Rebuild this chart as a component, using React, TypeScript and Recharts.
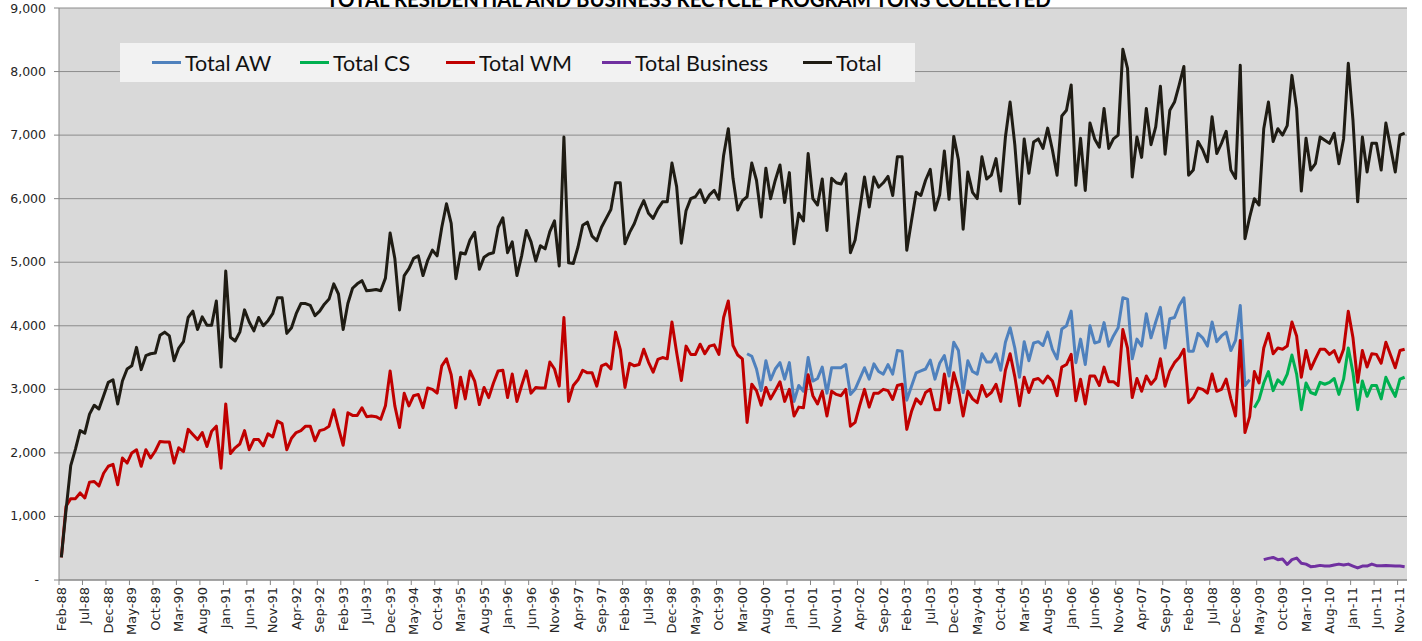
import { LineChart, Line, XAxis, YAxis, CartesianGrid, Legend } from 'recharts'

const MONTHS = ['Jan', 'Feb', 'Mar', 'Apr', 'May', 'Jun', 'Jul', 'Aug', 'Sep', 'Oct', 'Nov', 'Dec']
const FIRST_MONTH = 1 // Feb
const FIRST_YEAR = 1988

// Feb-88 .. Dec-11
const totalTons = [
  355, 1100, 1800, 2060, 2350, 2310, 2610, 2750, 2690, 2900, 3110, 3150,
  2770, 3130, 3320, 3370, 3660, 3310, 3530, 3560, 3570, 3850, 3900, 3840,
  3450, 3650, 3750, 4130, 4230, 3940, 4140, 4010, 4010, 4390, 3350, 4860,
  3820, 3760, 3900, 4250, 4060, 3920, 4130, 4000, 4080, 4190, 4440, 4440,
  3880, 3970, 4190, 4350, 4350, 4320, 4160, 4230, 4340, 4420, 4660, 4500,
  3940, 4350, 4590, 4660, 4710, 4550, 4560, 4570, 4550, 4750, 5460, 5060,
  4250, 4790, 4900, 5060, 5100, 4790, 5030, 5190, 5100, 5550, 5920, 5610,
  4740, 5150, 5130, 5350, 5470, 4890, 5080, 5130, 5150, 5550, 5700, 5150,
  5320, 4790, 5100, 5500, 5320, 5020, 5260, 5210, 5480, 5650, 4940, 6970,
  4990, 4980, 5240, 5580, 5630, 5410, 5340, 5550, 5690, 5830, 6250, 6250,
  5290, 5470, 5610, 5810, 5970, 5770, 5690, 5840, 5950, 5950, 6560, 6190,
  5300, 5810, 6000, 6030, 6140, 5940, 6060, 6130, 5990, 6680, 7100, 6320,
  5820, 5970, 6030, 6560, 6290, 5710, 6480, 6000, 6290, 6530, 5940, 6410,
  5290, 5770, 5650, 6710, 6000, 5900, 6310, 5500, 6320, 6250, 6230, 6390,
  5150, 5350, 5840, 6340, 5870, 6340, 6180, 6250, 6350, 6050, 6660, 6660,
  5190, 5650, 6100, 6050, 6290, 6460, 5820, 6060, 6750, 5990, 6980, 6610,
  5520, 6420, 6100, 6000, 6660, 6310, 6370, 6630, 6120, 6970, 7520, 6850,
  5920, 6940, 6400, 6890, 6940, 6790, 7110, 6770, 6370, 7300, 7390, 7790,
  6210, 6950, 6130, 7190, 6940, 6810, 7420, 6790, 6940, 7000, 8350, 8050,
  6340, 6970, 6650, 7420, 6850, 7130, 7770, 6700, 7390, 7520, 7790, 8080,
  6370, 6450, 6900, 6770, 6580, 7290, 6710, 6870, 7060, 6450, 6320, 8100,
  5370, 5710, 6000, 5900, 7100, 7520, 6900, 7100, 7000, 7150, 7940, 7420,
  6120, 6950, 6450, 6550, 6970, 6920, 6870, 7030, 6550, 6940, 8130, 7230,
  5950, 6970, 6420, 6870, 6870, 6450, 7190, 6810, 6420, 7000, 7030,
]

// Feb-88 .. Dec-11
const wmTons = [
  355, 1160, 1280, 1280, 1370, 1290, 1540, 1550, 1480, 1680, 1790, 1820,
  1500, 1920, 1840, 2000, 2050, 1790, 2050, 1920, 2030, 2180, 2170, 2170,
  1840, 2080, 2020, 2370, 2290, 2210, 2320, 2100, 2340, 2420, 1760, 2770,
  1990, 2080, 2140, 2350, 2050, 2210, 2210, 2110, 2300, 2250, 2500, 2460,
  2050, 2230, 2320, 2350, 2420, 2420, 2190, 2350, 2370, 2420, 2680, 2390,
  2120, 2630, 2590, 2590, 2710, 2570, 2580, 2570, 2530, 2740, 3290, 2740,
  2400, 2940, 2740, 2900, 2920, 2710, 3020, 3000, 2940, 3370, 3480, 3230,
  2710, 3190, 2850, 3290, 3130, 2760, 3030, 2870, 3100, 3290, 3300, 2870,
  3240, 2810, 3060, 3290, 2940, 3030, 3020, 3020, 3430, 3320, 3050, 4130,
  2810, 3060, 3150, 3300, 3260, 3260, 3050, 3370, 3400, 3320, 3900, 3630,
  3030, 3410, 3370, 3390, 3630, 3430, 3270, 3470, 3500, 3480, 4060, 3580,
  3140, 3680, 3550, 3550, 3710, 3560, 3680, 3700, 3550, 4130, 4390, 3690,
  3540, 3480, 2480, 3080, 2980, 2750, 3030, 2850, 2980, 3120, 2810, 3000,
  2580, 2720, 2710, 3230, 2900, 2770, 2970, 2580, 2970, 2920, 2900, 3000,
  2420, 2480, 2750, 3000, 2720, 2940, 2940, 3000, 2980, 2840, 3060, 3080,
  2370, 2650, 2850, 2770, 2950, 3000, 2680, 2680, 3240, 2790, 3260, 3000,
  2580, 2970, 2850, 2790, 3060, 2890, 2950, 3080, 2810, 3300, 3560, 3200,
  2740, 3190, 2950, 3150, 3170, 3100, 3210, 3130, 2900, 3350, 3390, 3550,
  2820, 3160, 2770, 3210, 3210, 3060, 3350, 3120, 3120, 3060, 3940, 3650,
  2870, 3170, 2970, 3210, 3080, 3170, 3480, 3050, 3290, 3420, 3500, 3630,
  2790, 2870, 3020, 3000, 2940, 3240, 2970, 3000, 3160, 2850, 2580, 3770,
  2320, 2570, 3280, 3100, 3650, 3880, 3560, 3650, 3630, 3680, 4060, 3840,
  3190, 3610, 3320, 3480, 3630, 3630, 3550, 3610, 3430, 3630, 4230, 3810,
  3110, 3610, 3350, 3560, 3550, 3410, 3740, 3540, 3340, 3610, 3630,
]

// Apr-00 .. Mar-09
const AW_START = 146
const awTons = [
  3560, 3520, 3320, 2980, 3450, 3150, 3320, 3420, 3160, 3420,
  2810, 3060, 2970, 3500, 3130, 3170, 3350, 2940, 3340, 3340, 3340, 3390,
  2920, 3000, 3170, 3340, 3160, 3400, 3280, 3240, 3390, 3240, 3610, 3600,
  2830, 3050, 3260, 3290, 3320, 3460, 3160, 3410, 3530, 3210, 3740, 3610,
  2950, 3450, 3280, 3240, 3560, 3430, 3430, 3560, 3300, 3740, 3970, 3650,
  3190, 3750, 3450, 3730, 3750, 3690, 3900, 3630, 3480, 3950, 4000, 4230,
  3420, 3790, 3390, 4000, 3730, 3750, 4050, 3680, 3840, 3970, 4440, 4420,
  3480, 3790, 3680, 4190, 3810, 4060, 4290, 3650, 4110, 4130, 4320, 4440,
  3600, 3600, 3880, 3810, 3680, 4060, 3750, 3840, 3900, 3610, 3770, 4320,
  3060, 3150,
]

// Apr-09 .. Dec-11
const CS_START = 254
const csTons = [
  2710, 2840, 3100, 3280, 2980, 3150, 3080, 3240, 3540,
  3240, 2680, 3100, 2950, 2920, 3110, 3080, 3110, 3170, 2920, 3160, 3650,
  3260, 2680, 3130, 2890, 3060, 3060, 2850, 3190, 3030, 2890, 3160, 3190,
]

// Jun-09 .. Dec-11
const BUSINESS_START = 256
const businessTons = [
  320, 340, 355, 320, 330, 245, 320,
  345, 265, 250, 210, 215, 230, 220, 220, 235, 250, 235, 250,
  220, 190, 220, 220, 250, 225, 225, 230, 225, 220, 220, 210,
]

const yTicks = [0, 1000, 2000, 3000, 4000, 5000, 6000, 7000, 8000, 9000]

const seriesList = [
  { key: 'aw', name: 'Total AW', color: '#4F81BD', legendX: 32 },
  { key: 'cs', name: 'Total CS', color: '#00B050', legendX: 180 },
  { key: 'wm', name: 'Total WM', color: '#C00000', legendX: 326 },
  { key: 'business', name: 'Total Business', color: '#7030A0', legendX: 482 },
  { key: 'total', name: 'Total', color: '#1F1C14', legendX: 683 },
]

const monthLabels = totalTons.map((_, i) => {
  const m = FIRST_MONTH + i
  const year = FIRST_YEAR + Math.floor(m / 12)
  return `${MONTHS[m % 12]}-${String(year % 100).padStart(2, '0')}`
})

const pick = (arr: number[], start: number, i: number) =>
  i >= start && i < start + arr.length ? arr[i - start] : null

const data = monthLabels.map((month, i) => ({
  month,
  aw: pick(awTons, AW_START, i),
  cs: pick(csTons, CS_START, i),
  wm: wmTons[i],
  business: pick(businessTons, BUSINESS_START, i),
  total: totalTons[i],
}))

const WIDTH = 1422
const HEIGHT = 641
const MARGIN = { top: 8, right: 15, left: 0, bottom: 0 }
const Y_AXIS_W = 59
const X_AXIS_H = 61
const BAND = (WIDTH - MARGIN.left - MARGIN.right - Y_AXIS_W) / data.length

function MonthTick({ x, payload }: any) {
  const axisY = HEIGHT - X_AXIS_H
  const bx = x - BAND / 2
  return (
    <g>
      <line x1={bx} x2={bx} y1={axisY} y2={axisY + 5} stroke="#868686" />
      <text
        transform={`translate(${x + 4.5}, ${axisY + 7}) rotate(-90)`}
        textAnchor="end"
        fontSize={13}
        fontFamily="DejaVu Sans, Verdana, sans-serif"
        fill="#262626"
      >
        {payload.value}
      </text>
    </g>
  )
}

function TonsTick({ x, y, payload }: any) {
  const v = payload.value
  return (
    <text
      x={v === 0 ? x - 7 : x}
      y={y}
      dy={4}
      textAnchor="end"
      fontSize={12.5}
      fontFamily="DejaVu Sans, Verdana, sans-serif"
      fill="#262626"
    >
      {v === 0 ? '-' : v.toLocaleString('en-US')}
    </text>
  )
}

function LegendBox() {
  return (
    <div
      style={{
        position: 'relative',
        background: '#F2F2F2',
        width: 795,
        height: 39,
        fontFamily: 'Lato, sans-serif',
        fontSize: 21.5,
        color: '#111',
      }}
    >
      {seriesList.map((s) => (
        <div
          key={s.key}
          style={{
            position: 'absolute',
            left: s.legendX,
            top: 0,
            height: 39,
            display: 'flex',
            alignItems: 'center',
            whiteSpace: 'nowrap',
          }}
        >
          <div style={{ width: 29, height: 3, background: s.color, marginRight: 4 }} />
          <span>{s.name}</span>
        </div>
      ))}
    </div>
  )
}

export default function App() {
  return (
    <div
      style={{
        position: 'absolute',
        left: 0,
        top: 0,
        width: WIDTH,
        height: HEIGHT,
        overflow: 'hidden',
        background: '#FFFFFF',
      }}
    >
      <LineChart width={WIDTH} height={HEIGHT} data={data} margin={MARGIN}>
        <CartesianGrid
          horizontal
          vertical={false}
          stroke="#8C8C8C"
          fill="#D9D9D9"
          fillOpacity={1}
        />
        <XAxis
          dataKey="month"
          scale="band"
          interval={4}
          height={X_AXIS_H}
          tick={<MonthTick />}
          tickLine={false}
          axisLine={{ stroke: '#868686' }}
        />
        <YAxis
          width={Y_AXIS_W}
          domain={[0, 9000]}
          ticks={yTicks}
          tick={<TonsTick />}
          tickSize={5}
          tickMargin={8}
          tickLine={{ stroke: '#868686' }}
          axisLine={{ stroke: '#868686' }}
        />
        <Legend
          layout="horizontal"
          verticalAlign="middle"
          align="center"
          wrapperStyle={{ position: 'absolute', top: 43, left: 120, width: 795, height: 39 }}
          content={() => <LegendBox />}
        />
        {seriesList.map((s) => (
          <Line
            key={s.key}
            dataKey={s.key}
            name={s.name}
            type="linear"
            stroke={s.color}
            strokeWidth={3}
            strokeLinejoin="round"
            dot={false}
            activeDot={false}
            connectNulls={false}
            isAnimationActive={false}
          />
        ))}
      </LineChart>
      <div
        style={{
          position: 'absolute',
          top: -11,
          left: 0,
          width: 1377,
          textAlign: 'center',
          fontFamily: 'Lato, sans-serif',
          fontWeight: 700,
          fontSize: 20.4,
          lineHeight: '20px',
          color: '#000',
          whiteSpace: 'nowrap',
        }}
      >
        TOTAL RESIDENTIAL AND BUSINESS RECYCLE PROGRAM TONS COLLECTED
      </div>
    </div>
  )
}
